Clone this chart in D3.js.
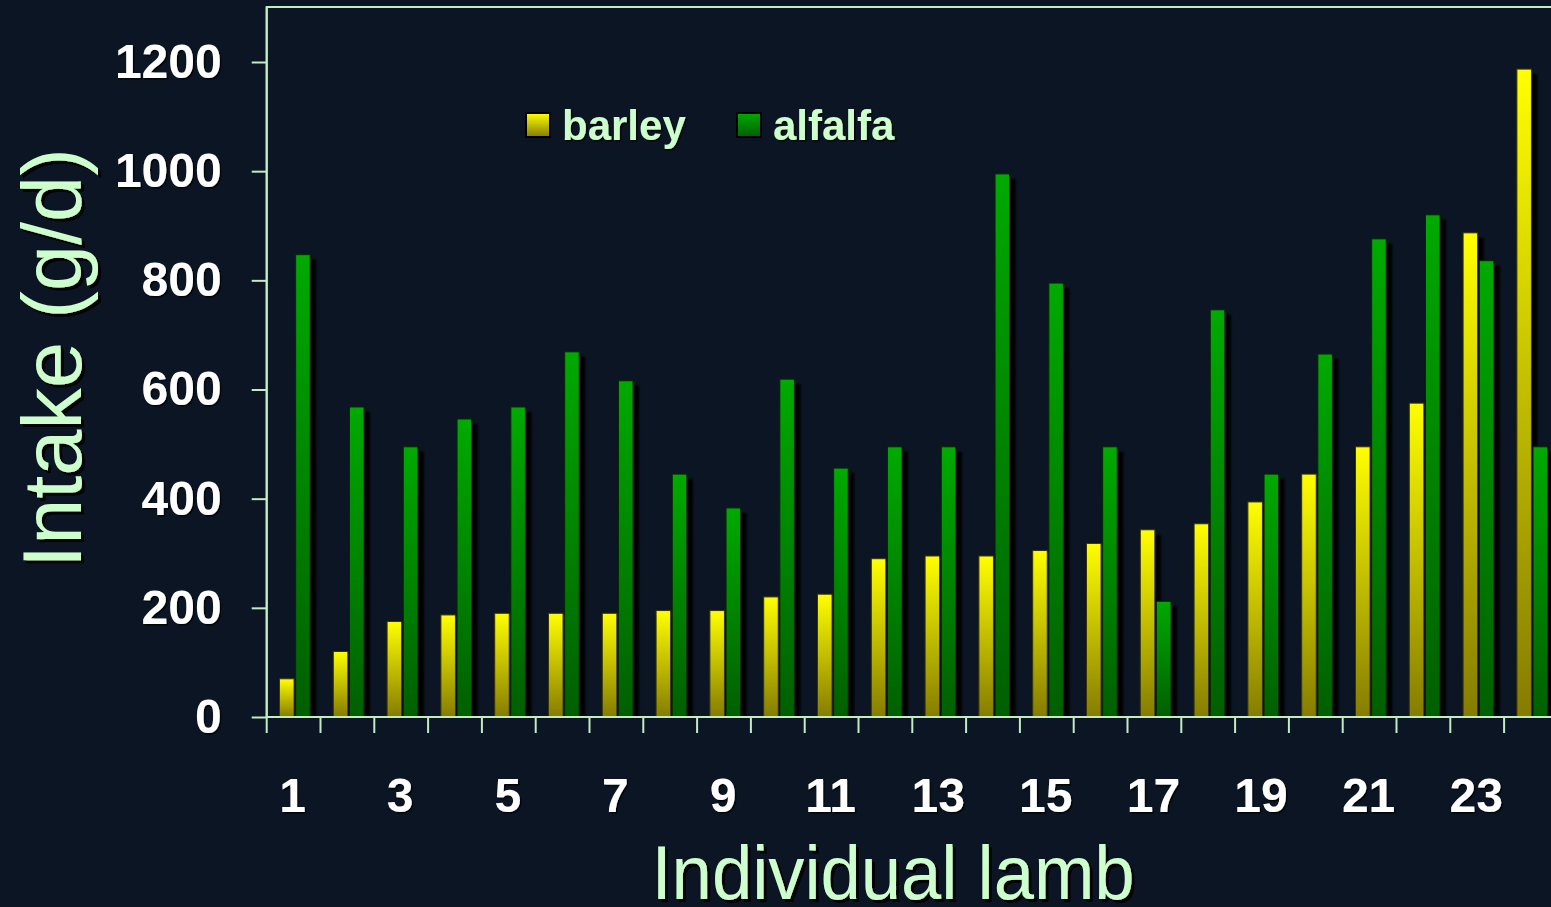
<!DOCTYPE html>
<html>
<head>
<meta charset="utf-8">
<script src="https://cdn.jsdelivr.net/npm/d3@7/dist/d3.min.js"></script>
<style>
  html, body { margin: 0; padding: 0; background: #0b1523; overflow: hidden; }
  svg { display: block; font-family: "Liberation Sans", Arial, sans-serif; }
</style>
</head>
<body>
<svg id="chart" width="1551" height="907"></svg>
<script>
// Daily intake of each lamb when offered barley or alfalfa
const lambs = ["1","2","3","4","5","6","7","8","9","10","11","12",
               "13","14","15","16","17","18","19","20","21","22","23","24"];
const seriesNames = ["barley", "alfalfa"];
const barley  = [70, 120, 175, 187, 190, 190, 190, 195, 195, 220, 225, 290,
                 295, 295, 305, 318, 343, 354, 394, 445, 495, 575, 887, 1187];
const alfalfa = [847, 568, 495, 546, 568, 669, 616, 445, 383, 619, 456, 495,
                 495, 995, 795, 495, 212, 746, 445, 665, 876, 920, 836, 495];
const yTicks = [0, 200, 400, 600, 800, 1000, 1200];
const xTickLabels = ["1","3","5","7","9","11","13","15","17","19","21","23"];

const rows = lambs.map((id, i) => ({ id, barley: barley[i], alfalfa: alfalfa[i] }));

const svg = d3.select("#chart");
const W = 1551, H = 907;
const plotLeft = 266.7, plotTop = 7, plotBottom = 717, step = 53.8;

svg.append("rect").attr("width", W).attr("height", H).attr("fill", "#0b1523");

const defs = svg.append("defs");
const grads = { barley: ["#ffff00", "#857c00"], alfalfa: ["#00aa00", "#005f00"] };
seriesNames.forEach(s => {
  const g = defs.append("linearGradient").attr("id", "grad-" + s)
    .attr("x1", 0).attr("y1", 0).attr("x2", 0).attr("y2", 1);
  g.append("stop").attr("offset", "0%").attr("stop-color", grads[s][0]);
  g.append("stop").attr("offset", "100%").attr("stop-color", grads[s][1]);
});
const blur = defs.append("filter").attr("id", "soft").attr("x", "-20%").attr("y", "-5%").attr("width", "160%").attr("height", "110%");
blur.append("feGaussianBlur").attr("stdDeviation", 1);

const txtShadow = defs.append("filter").attr("id", "txtShadow").attr("x", "-10%").attr("y", "-10%").attr("width", "130%").attr("height", "130%");
txtShadow.append("feDropShadow").attr("dx", 3).attr("dy", 3).attr("stdDeviation", 0.6)
  .attr("flood-color", "#000").attr("flood-opacity", 0.95);
const smallShadow = defs.append("filter").attr("id", "smallShadow").attr("x", "-10%").attr("y", "-10%").attr("width", "130%").attr("height", "130%");
smallShadow.append("feDropShadow").attr("dx", 1.5).attr("dy", 1.5).attr("stdDeviation", 0.5)
  .attr("flood-color", "#000").attr("flood-opacity", 0.8);

const x = d3.scaleBand().domain(lambs).range([plotLeft, plotLeft + step * lambs.length]).padding(0);
const xs = d3.scaleBand().domain(seriesNames).range([12.8, 43.5]).paddingInner(0.1);
const y = d3.scaleLinear().domain([0, 1200]).range([plotBottom, 62]);

const axisColor = "#c4ecc4";
const mint = "#ccffcc";

// plot frame (top and right edges; right edge lies beyond the view)
svg.append("rect")
  .attr("x", plotLeft).attr("y", plotTop)
  .attr("width", x.range()[1] - plotLeft).attr("height", plotBottom - plotTop)
  .attr("fill", "none").attr("stroke", axisColor).attr("stroke-width", 2);

// bar shadows, then bars
const groups = svg.append("g").selectAll("g").data(rows).join("g")
  .attr("transform", d => `translate(${x(d.id)},0)`);

groups.selectAll("rect.shadow")
  .data(d => seriesNames.map(s => ({ s, v: d[s] })))
  .join("rect").attr("class", "shadow")
  .attr("x", d => xs(d.s) + 6)
  .attr("y", d => y(d.v) + 5)
  .attr("width", xs.bandwidth())
  .attr("height", d => y(0) - y(d.v) - 5)
  .attr("fill", "#000")
  .attr("filter", "url(#soft)");

groups.selectAll("rect.bar")
  .data(d => seriesNames.map(s => ({ s, v: d[s] })))
  .join("rect").attr("class", "bar")
  .attr("x", d => xs(d.s))
  .attr("y", d => y(d.v))
  .attr("width", xs.bandwidth())
  .attr("height", d => y(0) - y(d.v))
  .attr("fill", d => `url(#grad-${d.s})`)
  .attr("stroke", d => d.s === "barley" ? "#3a3600" : "#002a00")
  .attr("stroke-width", 1);

// y axis
const yAxis = svg.append("g")
  .attr("transform", `translate(${plotLeft},0)`)
  .call(d3.axisLeft(y).tickValues(yTicks).tickSize(15).tickPadding(30).tickFormat(d3.format("d")));
yAxis.select(".domain").attr("stroke", axisColor).attr("stroke-width", 2)
  .attr("d", `M0,${plotTop}V${plotBottom}`);
yAxis.selectAll(".tick line").attr("stroke", axisColor).attr("stroke-width", 2);
yAxis.selectAll(".tick text")
  .attr("fill", "#ffffff").attr("font-size", 48).attr("font-weight", "bold")
  .attr("font-family", "'Liberation Sans', Arial, sans-serif")
  .attr("filter", "url(#smallShadow)");

// x axis line, category boundary ticks and odd labels
const xAxis = svg.append("g");
xAxis.append("line")
  .attr("x1", plotLeft).attr("x2", x.range()[1]).attr("y1", y(0)).attr("y2", y(0))
  .attr("stroke", axisColor).attr("stroke-width", 2);
xAxis.selectAll("line.tick").data(lambs).join("line").attr("class", "tick")
  .attr("x1", d => x(d)).attr("x2", d => x(d))
  .attr("y1", y(0)).attr("y2", y(0) + 16)
  .attr("stroke", axisColor).attr("stroke-width", 2);
xAxis.selectAll("text").data(xTickLabels).join("text")
  .attr("x", d => x(d) + x.bandwidth() / 2 - 1)
  .attr("y", 812)
  .attr("text-anchor", "middle")
  .attr("fill", "#ffffff").attr("font-size", 48).attr("font-weight", "bold")
  .attr("filter", "url(#smallShadow)")
  .text(d => d);

// axis titles
svg.append("g").attr("filter", "url(#txtShadow)")
  .append("text")
  .attr("transform", "translate(81,358) rotate(-90)")
  .attr("text-anchor", "middle")
  .attr("font-size", 83)
  .attr("fill", mint)
  .text("Intake (g/d)");

svg.append("g").attr("filter", "url(#txtShadow)")
  .append("text")
  .attr("x", 893).attr("y", 899)
  .attr("text-anchor", "middle")
  .attr("font-size", 76)
  .attr("textLength", 483).attr("lengthAdjust", "spacingAndGlyphs")
  .attr("fill", mint)
  .text("Individual lamb");

// legend
const legendX = d3.scalePoint().domain(seriesNames).range([526, 737]);
const legend = svg.append("g").selectAll("g").data(seriesNames).join("g")
  .attr("transform", d => `translate(${legendX(d)},113)`);
legend.append("rect")
  .attr("width", 24).attr("height", 24)
  .attr("fill", d => `url(#grad-${d})`)
  .attr("stroke", "#000").attr("stroke-width", 2);
legend.append("text")
  .attr("x", 36).attr("y", 27)
  .attr("font-size", 42).attr("font-weight", "bold")
  .attr("fill", mint)
  .attr("filter", "url(#smallShadow)")
  .text(d => d);
</script>
</body>
</html>
